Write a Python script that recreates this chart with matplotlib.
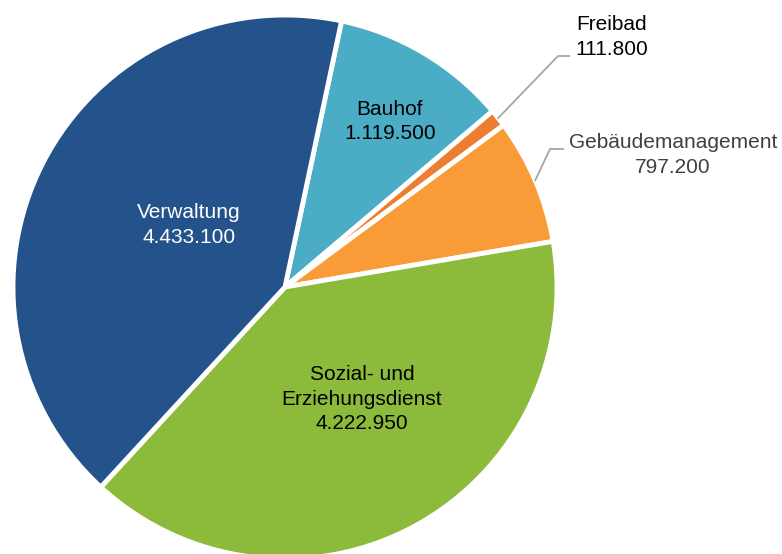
import numpy as np
import matplotlib.pyplot as plt

plt.rcParams['font.family'] = ['Liberation Sans', 'DejaVu Sans']

# Daten
bereiche = ['Bauhof', 'Freibad', 'Gebäudemanagement', 'Sozial- und\nErziehungsdienst', 'Verwaltung']
werte = [1119500, 111800, 797200, 4222950, 4433100]
farben = ['#4BACC6', '#ED7D31', '#F99B37', '#8CBA3A', '#24538B']

def fmt(v):
    return f'{v:,}'.replace(',', '.')

fig = plt.figure(figsize=(7.82, 5.54), dpi=100)
ax = fig.add_axes([0, 0, 1, 1])

cx, cy, r = 285, 267, 272
wedges, _ = ax.pie(werte, colors=farben, startangle=78, counterclock=False,
                   center=(cx, cy), radius=r,
                   wedgeprops=dict(edgecolor='white', linewidth=3.5))
ax.set_xlim(0, 782)
ax.set_ylim(0, 554)
ax.set_aspect('equal')
ax.axis('off')

def mitte(w):
    return (w.theta1 + w.theta2) / 2

# Beschriftungen innen: (Radiusfaktor, Winkelversatz, Farbe)
innen = {0: (0.72, -1.5, 'black'), 3: (0.5, 6, 'black'), 4: (0.42, -5.5, 'white')}
for i, (f, d, c) in innen.items():
    a = np.deg2rad(mitte(wedges[i]) + d)
    ax.text(cx + f * r * np.cos(a), cy + f * r * np.sin(a),
            f'{bereiche[i]}\n{fmt(werte[i])}', ha='center', va='center',
            fontsize=15, color=c, linespacing=1.35)

# Beschriftungen außen mit Führungslinien
aussen = {1: ((558, 498), (569, 498), (612, 517), 'black'),
          2: ((550, 405), (563, 405), (673, 399), '#404040')}
for i, (knick, ende, txt, c) in aussen.items():
    a = np.deg2rad(mitte(wedges[i]))
    x0, y0 = cx + r * np.cos(a), cy + r * np.sin(a)
    ax.plot([x0, knick[0], ende[0]], [y0, knick[1], ende[1]], color='#A6A6A6', lw=1.3)
    ax.text(txt[0], txt[1], f'{bereiche[i]}\n{fmt(werte[i])}', ha='center', va='center',
            fontsize=15, color=c, linespacing=1.35)

plt.savefig('out.png', dpi=100)
